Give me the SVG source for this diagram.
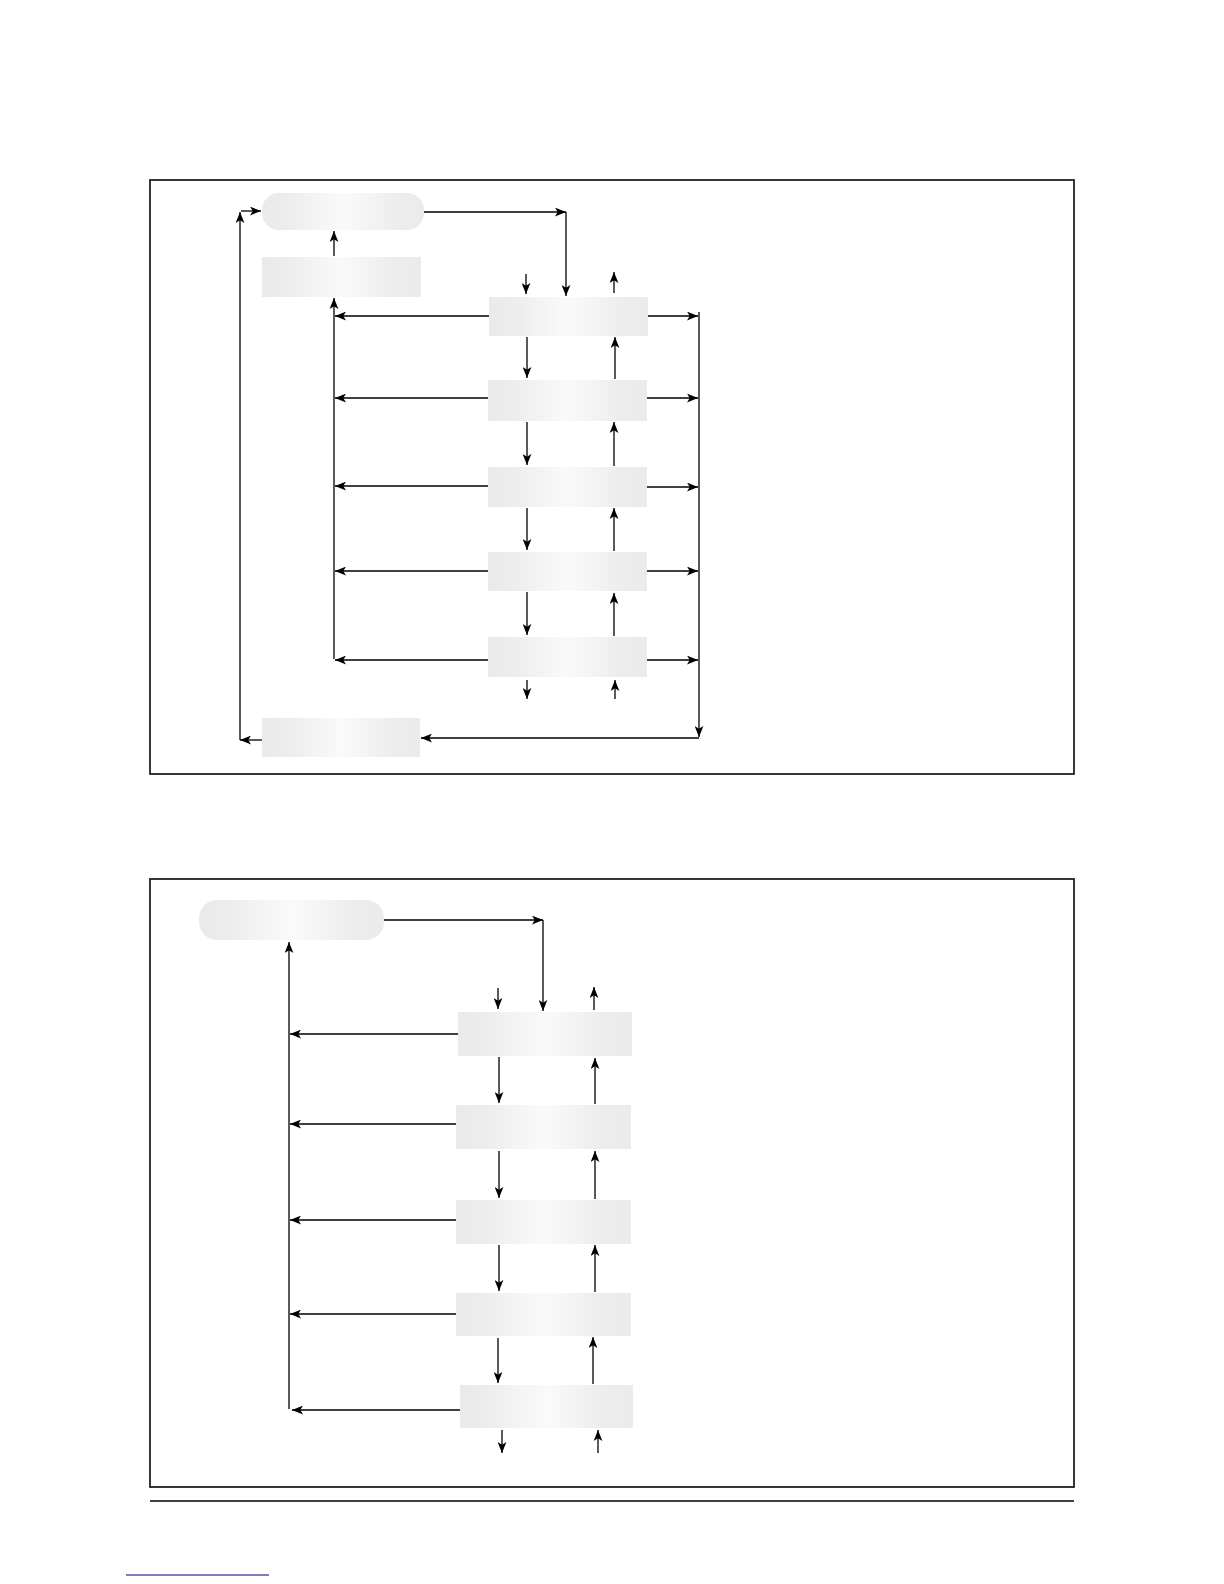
<svg xmlns="http://www.w3.org/2000/svg" width="1224" height="1584" viewBox="0 0 1224 1584">
<style>
.frame{fill:none;stroke:#222;stroke-width:1.8}
.box{fill:url(#g);stroke:none}
.c line{stroke:#000;stroke-width:1.3;fill:none}
.a{marker-end:url(#ah)}
</style>
<defs>
<linearGradient id="g" x1="0" y1="0" x2="1" y2="0">
<stop offset="0" stop-color="#eaeaea"/>
<stop offset="0.15" stop-color="#ececec"/>
<stop offset="0.5" stop-color="#fafafa"/>
<stop offset="0.85" stop-color="#ececec"/>
<stop offset="1" stop-color="#ebebeb"/>
</linearGradient>
<marker id="ah" viewBox="0 0 10 8" refX="10" refY="4" markerWidth="11" markerHeight="9" markerUnits="userSpaceOnUse" orient="auto">
<path d="M0,0 L10,4 L0,8 L2.5,4 z" fill="#000"/>
</marker>
</defs>
<rect width="1224" height="1584" fill="#fff"/>
<rect class="frame" x="150" y="180" width="924" height="594"/>
<rect class="frame" x="150" y="879" width="924" height="608"/>
<line x1="150" y1="1501" x2="1074" y2="1501" stroke="#000" stroke-width="1.3"/>
<line x1="126" y1="1575" x2="269" y2="1575" stroke="#000080" stroke-width="1.2"/>

<g id="n1"><rect class="box" x="262" y="193" width="162" height="37" rx="17"/></g>
<g id="n2"><rect class="box" x="262" y="257" width="159" height="40"/></g>
<g id="n3"><rect class="box" x="489" y="297" width="159" height="39"/></g>
<g id="n4"><rect class="box" x="488" y="380" width="159" height="41"/></g>
<g id="n5"><rect class="box" x="488" y="467" width="159" height="40"/></g>
<g id="n6"><rect class="box" x="488" y="552" width="159" height="39"/></g>
<g id="n7"><rect class="box" x="488" y="637" width="159" height="40"/></g>
<g id="n8"><rect class="box" x="262" y="718" width="158" height="39"/></g>

<g id="m1"><rect class="box" x="199" y="900" width="185" height="40" rx="18"/></g>
<g id="m2"><rect class="box" x="458" y="1012" width="174" height="44"/></g>
<g id="m3"><rect class="box" x="456" y="1105" width="175" height="44"/></g>
<g id="m4"><rect class="box" x="456" y="1200" width="175" height="44"/></g>
<g id="m5"><rect class="box" x="456" y="1293" width="175" height="43"/></g>
<g id="m6"><rect class="box" x="460" y="1385" width="173" height="43"/></g>

<g id="connectors" class="c">
<line class="a" x1="424" y1="212" x2="566" y2="212"/>
<line class="a" x1="566" y1="212" x2="566" y2="296"/>
<line class="a" x1="334" y1="256" x2="334" y2="231"/>
<line class="a" x1="334" y1="659" x2="334" y2="298"/>
<line class="a" x1="489" y1="316" x2="335" y2="316"/>
<line class="a" x1="488" y1="398" x2="335" y2="398"/>
<line class="a" x1="488" y1="486" x2="335" y2="486"/>
<line class="a" x1="488" y1="571" x2="335" y2="571"/>
<line class="a" x1="488" y1="660" x2="335" y2="660"/>
<line class="a" x1="648" y1="316" x2="698" y2="316"/>
<line class="a" x1="647" y1="398" x2="698" y2="398"/>
<line class="a" x1="647" y1="487" x2="698" y2="487"/>
<line class="a" x1="647" y1="571" x2="698" y2="571"/>
<line class="a" x1="647" y1="660" x2="698" y2="660"/>
<line class="a" x1="699" y1="312" x2="699" y2="737"/>
<line class="a" x1="699" y1="738" x2="421" y2="738"/>
<line class="a" x1="262" y1="740" x2="240" y2="740"/>
<line class="a" x1="240" y1="740" x2="240" y2="212"/>
<line class="a" x1="241" y1="211" x2="261" y2="211"/>
<line class="a" x1="526" y1="274" x2="526" y2="294"/>
<line class="a" x1="614" y1="293" x2="614" y2="272"/>
<line class="a" x1="527" y1="337" x2="527" y2="378"/>
<line class="a" x1="527" y1="422" x2="527" y2="465"/>
<line class="a" x1="527" y1="508" x2="527" y2="550"/>
<line class="a" x1="527" y1="592" x2="527" y2="635"/>
<line class="a" x1="615" y1="379" x2="615" y2="337"/>
<line class="a" x1="614" y1="466" x2="614" y2="422"/>
<line class="a" x1="614" y1="551" x2="614" y2="508"/>
<line class="a" x1="614" y1="636" x2="614" y2="593"/>
<line class="a" x1="527" y1="680" x2="527" y2="699"/>
<line class="a" x1="615" y1="699" x2="615" y2="680"/>
<line class="a" x1="384" y1="920" x2="543" y2="920"/>
<line class="a" x1="543" y1="920" x2="543" y2="1011"/>
<line class="a" x1="289" y1="1409" x2="289" y2="942"/>
<line class="a" x1="458" y1="1034" x2="290" y2="1034"/>
<line class="a" x1="456" y1="1124" x2="290" y2="1124"/>
<line class="a" x1="456" y1="1220" x2="290" y2="1220"/>
<line class="a" x1="456" y1="1314" x2="290" y2="1314"/>
<line class="a" x1="460" y1="1410" x2="292" y2="1410"/>
<line class="a" x1="498" y1="988" x2="498" y2="1009"/>
<line class="a" x1="594" y1="1010" x2="594" y2="987"/>
<line class="a" x1="499" y1="1057" x2="499" y2="1103"/>
<line class="a" x1="499" y1="1151" x2="499" y2="1198"/>
<line class="a" x1="499" y1="1245" x2="499" y2="1291"/>
<line class="a" x1="498" y1="1338" x2="498" y2="1383"/>
<line class="a" x1="595" y1="1104" x2="595" y2="1058"/>
<line class="a" x1="595" y1="1199" x2="595" y2="1151"/>
<line class="a" x1="595" y1="1292" x2="595" y2="1245"/>
<line class="a" x1="593" y1="1384" x2="593" y2="1337"/>
<line class="a" x1="502" y1="1430" x2="502" y2="1453"/>
<line class="a" x1="598" y1="1453" x2="598" y2="1430"/>
</g>
</svg>
